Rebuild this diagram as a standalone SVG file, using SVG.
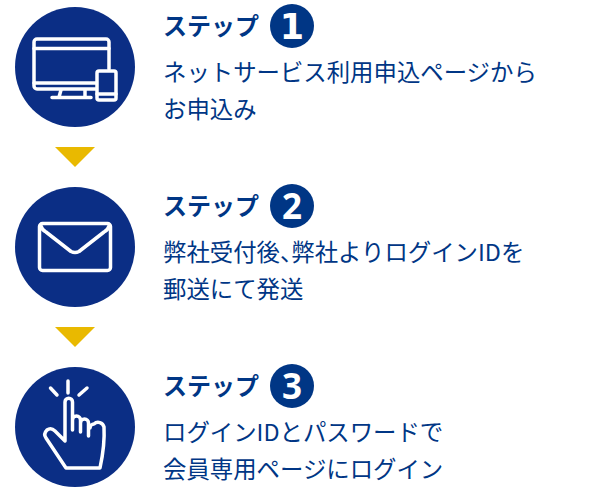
<svg xmlns="http://www.w3.org/2000/svg" width="590" height="490" viewBox="0 0 590 490">
<style>
.c{fill:#0b2e85}
.t{fill:#e9b900}
.i{fill:none;stroke:#fff;stroke-width:3.500;stroke-linejoin:round;stroke-linecap:round}
.h{font:700 24px "Noto Sans CJK JP","Noto Sans",sans-serif;fill:#003685}
.b{font:400 23.4px "Noto Sans CJK JP","Noto Sans",sans-serif;fill:#003685}
.n{font:700 35px "Noto Sans",sans-serif;fill:#fff;text-anchor:middle}
.d{fill:#003685}
</style>
<rect width="590" height="490" fill="#fff"/>
<g id="connectors">
<path class="t" d="M55 147H95L75 167Z"/>
<path class="t" d="M55 327H95L75 347Z"/>
</g>
<g id="step1">
<circle class="c" cx="75" cy="67" r="60"/>
<path class="i" d="M96 89H37a3 3 0 0 1-3-3V42a3 3 0 0 1 3-3H106a3 3 0 0 1 3 3V69"/>
<path class="i" d="M34 48.500H109M34 83H96M61 90L59 97M85 90V97M52 97.500H91"/>
<rect x="97" y="71" width="19" height="29" rx="2" class="i"/>
<path class="i" d="M97 94H116"/>
<circle class="d" cx="292" cy="26" r="22"/>
<text class="h" x="163" y="35">ステップ</text>
<text class="n" x="292" y="39" style="font-family:'DejaVu Sans',sans-serif">1</text>
<text class="b" x="163" y="81">ネットサービス利用申込ページから</text>
<text class="b" x="163" y="118">お申込み</text>
</g>
<g id="step2">
<circle class="c" cx="75" cy="247" r="60"/>
<rect class="i" x="39.500" y="223.500" width="71" height="47" rx="3"/>
<path class="i" d="M41 226Q42 230 46 232L71 251.500Q75 253.500 79 251.500L104 232Q108 230 109 226"/>
<circle class="d" cx="292" cy="206" r="22"/>
<text class="h" x="163" y="215">ステップ</text>
<text class="n" x="292" y="219">2</text>
<text class="b" x="163" y="261">弊社受付後、<tspan dx="-12">弊社よりログインIDを</tspan></text>
<text class="b" x="163" y="298">郵送にて発送</text>
</g>
<g id="step3">
<circle class="c" cx="75" cy="427" r="60"/>
<path class="i" d="M68 381V393M50.500 388L57 395M87 388L79 395"/>
<path class="i" d="M65 441V402a3.500 3.500 0 0 1 7.500 0V430M72.500 420a4 4 0 0 1 4-4a4 4 0 0 1 4 4V432M80.500 423a4 4 0 0 1 4-4a4 4 0 0 1 4 4V436M90 428a4 4 0 0 1 4-4a6 6 0 0 1 10 3Q105 445 100 468H66L46 438Q43 434 47 430Q51 427 55 431L65 441"/>
<circle class="d" cx="292" cy="386" r="22"/>
<text class="h" x="163" y="395">ステップ</text>
<text class="n" x="292" y="399">3</text>
<text class="b" x="163" y="441">ログインIDとパスワードで</text>
<text class="b" x="163" y="478">会員専用ページにログイン</text>
</g>
</svg>
